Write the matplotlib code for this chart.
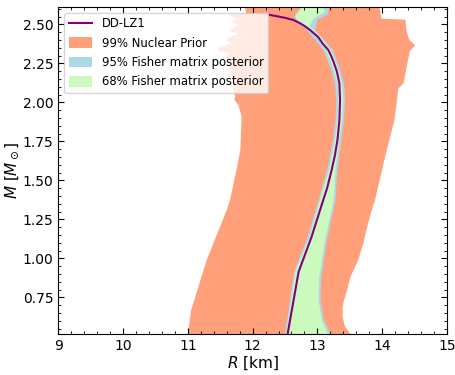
import matplotlib

matplotlib.use("Agg")
import matplotlib.pyplot as plt
from matplotlib.ticker import MultipleLocator, AutoMinorLocator

# DD-LZ1 mass-radius curve (R in km, M in Msun)
line_R = [12.54, 12.71, 12.91, 13.09, 13.15, 13.22, 13.27, 13.31, 13.34,
          13.35, 13.34, 13.30, 13.25, 13.21, 13.17, 13.08, 13.01, 12.89,
          12.80, 12.72, 12.63, 12.50, 12.38, 12.30, 12.26]
line_M = [0.515, 0.914, 1.138, 1.374, 1.450, 1.566, 1.660, 1.758, 1.886,
          2.015, 2.122, 2.200, 2.260, 2.300, 2.335, 2.378, 2.420, 2.463,
          2.490, 2.510, 2.528, 2.542, 2.552, 2.558, 2.561]

# 99% nuclear prior outline (left edge upward, then right edge downward)
prior_R = [11.00, 11.05, 11.29, 11.60, 11.65, 11.76, 11.81, 11.83, 11.78,
           11.72, 11.73, 11.70, 11.70, 11.68, 11.65, 11.68, 11.58, 11.63,
           11.45, 11.50, 11.68, 11.58, 11.68, 11.78, 11.65, 11.68, 11.78,
           11.68, 11.78, 11.60, 11.90, 11.88,
           13.94, 13.97, 13.99, 14.36, 14.38, 14.42, 14.51, 14.43, 14.40,
           14.38, 14.33, 14.25, 14.23, 14.19, 14.07, 13.89, 13.84, 13.77,
           13.71, 13.63, 13.51, 13.46, 13.41, 13.39, 13.39, 13.43, 13.51]
prior_M = [0.515, 0.668, 0.989, 1.310, 1.374, 1.587, 1.694, 1.908, 1.983,
           2.015, 2.040, 2.079, 2.122, 2.164, 2.207, 2.250, 2.282, 2.314,
           2.335, 2.356, 2.378, 2.399, 2.420, 2.442, 2.453, 2.474, 2.496,
           2.517, 2.538, 2.560, 2.568, 2.620,
           2.620, 2.590, 2.537, 2.530, 2.450, 2.400, 2.367, 2.330, 2.270,
           2.228, 2.122, 2.090, 2.015, 1.886, 1.694, 1.374, 1.310, 1.203,
           1.098, 0.989, 0.882, 0.797, 0.730, 0.690, 0.620, 0.560, 0.515]

# 95% Fisher matrix posterior outline
fish95_R = [12.50, 12.64, 12.85, 13.02, 13.15, 13.24, 13.28, 13.29, 13.27,
            13.20, 13.09, 12.97, 12.82, 12.70, 12.64, 12.70, 12.82, 13.17,
            13.17, 13.00, 12.97, 13.15, 13.24, 13.34, 13.41, 13.43, 13.41,
            13.37, 13.31, 13.28, 13.15, 13.06, 13.05, 13.10, 13.21]
fish95_M = [0.515, 0.914, 1.138, 1.374, 1.566, 1.758, 1.886, 2.015, 2.122,
            2.228, 2.335, 2.400, 2.470, 2.515, 2.550, 2.585, 2.613, 2.613,
            2.565, 2.530, 2.463, 2.378, 2.335, 2.228, 2.122, 2.015, 1.886,
            1.758, 1.566, 1.374, 1.117, 0.882, 0.733, 0.605, 0.515]

# 68% Fisher matrix posterior outline
fish68_R = [12.52, 12.66, 12.88, 13.04, 13.18, 13.27, 13.31, 13.32, 13.31,
            13.24, 13.13, 12.99, 12.80, 12.68, 12.66, 12.76, 13.08, 13.12,
            12.95, 12.88, 13.05, 13.21, 13.31, 13.38, 13.40, 13.38, 13.34,
            13.28, 13.25, 13.12, 13.03, 13.02, 13.07, 13.16]
fish68_M = [0.515, 0.914, 1.138, 1.374, 1.566, 1.758, 1.886, 2.015, 2.122,
            2.228, 2.335, 2.420, 2.496, 2.530, 2.555, 2.613, 2.613, 2.580,
            2.540, 2.490, 2.420, 2.335, 2.228, 2.122, 2.015, 1.886, 1.758,
            1.566, 1.374, 1.117, 0.882, 0.733, 0.605, 0.515]

fig = plt.figure(figsize=(4.56, 3.75), dpi=100)
ax = fig.add_axes([0.128, 0.109, 0.852, 0.873])

ax.fill(prior_R, prior_M, color="#FFA07A", lw=0, label="99% Nuclear Prior")
ax.fill(fish95_R, fish95_M, color="#ADD8E6", lw=0,
        label="95% Fisher matrix posterior")
ax.fill(fish68_R, fish68_M, color="#CCF9BD", lw=0,
        label="68% Fisher matrix posterior")
ax.plot(line_R, line_M, color="purple", lw=1.5, label="DD-LZ1")

ax.set_xlim(9, 15)
ax.set_ylim(0.515, 2.613)
ax.xaxis.set_major_locator(MultipleLocator(1))
ax.yaxis.set_major_locator(MultipleLocator(0.25))
ax.xaxis.set_minor_locator(AutoMinorLocator(5))
ax.yaxis.set_minor_locator(AutoMinorLocator(5))
ax.tick_params(which="both", direction="in", top=True, right=True,
               labelsize=10)
ax.tick_params(which="major", length=4.5)
ax.tick_params(which="minor", length=2.5)

ax.set_xlabel(r"$R$ [km]", fontsize=11, labelpad=1)
ax.set_ylabel(r"$M$ [$M_\odot$]", fontsize=11, labelpad=1)

handles, labels = ax.get_legend_handles_labels()
order = [3, 0, 1, 2]
ax.legend([handles[i] for i in order], [labels[i] for i in order],
          loc="upper left", fontsize=8.4, handleheight=1.0,
          labelspacing=0.55)

fig.savefig("out.png", dpi=100)
